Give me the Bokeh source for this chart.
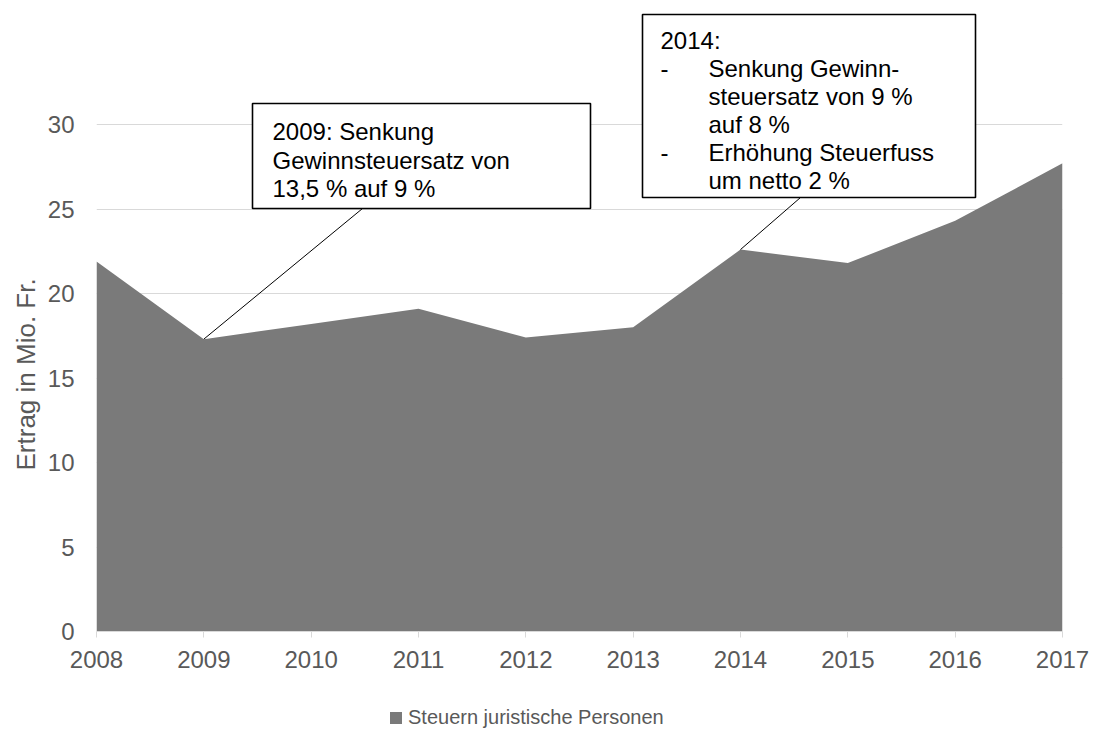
from bokeh.plotting import figure
from bokeh.layouts import column
from bokeh.models import (Range1d, FixedTicker, BoxAnnotation, Label, Legend, LegendItem,
                          Title)
from bokeh.embed import file_html
from bokeh.resources import INLINE

years = [2008, 2009, 2010, 2011, 2012, 2013, 2014, 2015, 2016, 2017]
ertrag = [21.9, 17.3, 18.2, 19.1, 17.4, 18.0, 22.6, 21.8, 24.3, 27.7]
y_ticks = [0, 5, 10, 15, 20, 25, 30]
series_name = "Steuern juristische Personen"
y_title = "Ertrag in Mio. Fr."
note_2009 = ["2009: Senkung", "Gewinnsteuersatz von", "13,5 % auf 9 %"]
note_2014_head = "2014:"
note_2014_items = [["Senkung Gewinn-", "steuersatz von 9 %", "auf 8 %"],
                   ["Erhöhung Steuerfuss", "um netto 2 %"]]

W, H = 1096, 729
H_MAIN = 690
FL, FR, FB = 96, 1062, 631   # frame left/right/bottom in canvas px
PX_PER_UNIT = 507 / 30.0
Y_TOP = FB / PX_PER_UNIT

def dx(px):
    return years[0] + (px - FL) * (years[-1] - years[0]) / (FR - FL)

def dy(py):
    return (FB - py) / PX_PER_UNIT

FONT = "Liberation Sans"
GREY_TXT = "#595959"
AREA_COLOR = "#7a7a7a"

p = figure(width=W, height=H_MAIN, output_backend="svg", toolbar_location=None,
           x_range=Range1d(years[0], years[-1]), y_range=Range1d(0, Y_TOP),
           min_border_left=FL, min_border_right=W - FR, min_border_top=0,
           min_border_bottom=H_MAIN - FB, background_fill_color="white",
           border_fill_color="white", outline_line_color=None)

area = p.varea(x=years, y1=[0] * len(years), y2=ertrag, fill_color=AREA_COLOR)

# axes
p.xaxis.ticker = FixedTicker(ticks=years)
p.xaxis.minor_tick_line_color = None
p.xaxis.major_tick_out = 6
p.xaxis.major_tick_in = 0
p.xaxis.axis_line_color = "#d9d9d9"
p.xaxis.major_tick_line_color = "#d9d9d9"
p.xaxis.major_label_text_font = FONT
p.xaxis.major_label_text_font_size = "24px"
p.xaxis.major_label_text_color = GREY_TXT
p.xaxis.major_label_standoff = 13

p.yaxis.ticker = FixedTicker(ticks=y_ticks)
p.yaxis.axis_line_color = None
p.yaxis.major_tick_line_color = None
p.yaxis.minor_tick_line_color = None
p.yaxis.major_label_text_font = FONT
p.yaxis.major_label_text_font_size = "24px"
p.yaxis.major_label_text_color = GREY_TXT
p.yaxis.major_label_standoff = 16

# y title as a side title, started a little above the frame bottom as in the reference
p.add_layout(Title(text=y_title, align="left", offset=161, standoff=8,
                   text_font=FONT, text_font_size="26px", text_font_style="normal",
                   text_color=GREY_TXT), "left")

p.xgrid.grid_line_color = None
p.ygrid.ticker = FixedTicker(ticks=y_ticks)
p.ygrid.grid_line_color = "#d9d9d9"
p.ygrid.grid_line_width = 1

# leader lines
p.segment(x0=[dx(362), dx(800)], y0=[dy(208), dy(197)],
          x1=[years[1], years[6]], y1=[ertrag[1], ertrag[6]],
          line_color="black", line_width=1)

# boxes
for (l, r, t, b) in [(252, 590, 103, 208), (642, 975, 14, 197)]:
    p.add_layout(BoxAnnotation(left=dx(l), right=dx(r), top=dy(t), bottom=dy(b),
                               fill_color="white", fill_alpha=1.0,
                               line_color="black", line_alpha=1.0, line_width=1.6,
                               level="overlay"))

def label(txt, px, py):
    p.add_layout(Label(x=dx(px), y=dy(py), text=txt, text_font=FONT,
                       text_font_size="24px", text_color="black",
                       text_baseline="middle", text_align="left", level="overlay"))

for i, line in enumerate(note_2009):
    label(line, 272, 131 + i * 28.5)

label(note_2014_head, 660, 40)
row = 1
for item in note_2014_items:
    for j, line in enumerate(item):
        if j == 0:
            label("-", 660, 40 + row * 28)
        label(line, 708, 40 + row * 28)
        row += 1

# legend strip below the chart
H_LEG = H - H_MAIN
q = figure(width=W, height=H_LEG, output_backend="svg", toolbar_location=None,
           x_range=Range1d(0, 1), y_range=Range1d(0, 1),
           x_axis_location=None, y_axis_location=None,
           min_border=0, outline_line_color=None,
           background_fill_color="white", border_fill_color="white")
q.xgrid.visible = False
q.ygrid.visible = False
proxy = q.varea(x=years, y1=[0] * len(years), y2=ertrag, fill_color=AREA_COLOR)

legend = Legend(items=[LegendItem(label=series_name, renderers=[proxy])],
                location=(388 - FL, 0), orientation="horizontal",
                label_text_font=FONT, label_text_font_size="20px",
                label_text_color=GREY_TXT, glyph_width=15, glyph_height=15,
                label_standoff=5, padding=0, margin=0,
                border_line_color=None, background_fill_alpha=0)
q.add_layout(legend, "center")

layout = column(p, q, spacing=0)
open("out.html", "w").write(file_html(layout, INLINE))
